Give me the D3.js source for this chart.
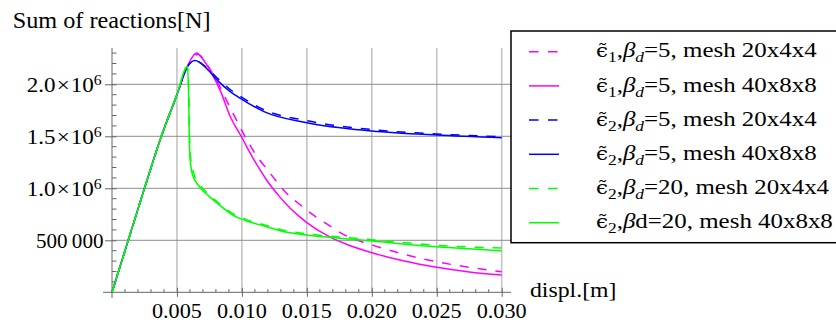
<!DOCTYPE html>
<html><head><meta charset="utf-8">
<script src="https://cdn.jsdelivr.net/npm/d3@7"></script>
<style>
body{margin:0;background:#fff}
svg{display:block}
text{font-family:"Liberation Serif","Times New Roman",serif;fill:#000}
</style>
</head><body>
<svg id="c" width="836" height="323"></svg>
<script>
// ---- data ----
const xTickValues = [0.005, 0.010, 0.015, 0.020, 0.025, 0.030];
const xTickLabels = ["0.005", "0.010", "0.015", "0.020", "0.025", "0.030"];
const yTickValues = [500000, 1000000, 1500000, 2000000];
const yTickMantissa = ["500\u2009000", "1.0", "1.5", "2.0"];
const yTickExponent = ["", "6", "6", "6"];

const magentaDashed = [[0,0],[0.00125,5e5],[0.0025,1.0e6],[0.0038,1.5e6],[0.005,1.9e6],[0.0058,2.17e6],[0.0066,2.29e6],[0.0073,2.19e6],[0.0080,2.05e6],[0.0088,1.85e6],[0.0096,1.65e6],[0.0105,1.44e6],[0.0112,1.30e6],[0.0119,1.19e6],[0.0127,1.06e6],[0.0133,0.97e6],[0.014,0.89e6],[0.0145,0.84e6],[0.015,0.79e6],[0.0165,0.66e6],[0.018,0.545e6],[0.019,0.495e6],[0.020,0.455e6],[0.0225,0.365e6],[0.025,0.294e6],[0.0275,0.24e6],[0.030,0.198e6]];
const magentaSolid = [[0,0],[0.00125,5e5],[0.0025,1.0e6],[0.0038,1.5e6],[0.005,1.9e6],[0.0058,2.17e6],[0.0065,2.30e6],[0.0070,2.24e6],[0.0077,2.10e6],[0.0084,1.92e6],[0.0091,1.69e6],[0.0099,1.51e6],[0.0109,1.28e6],[0.0119,1.08e6],[0.0129,0.92e6],[0.0137,0.81e6],[0.0145,0.72e6],[0.015,0.67e6],[0.0168,0.53e6],[0.018,0.465e6],[0.020,0.381e6],[0.0225,0.30e6],[0.025,0.24e6],[0.0275,0.196e6],[0.030,0.166e6]];
const blueDashed = [[0,0],[0.00125,5e5],[0.0025,1.0e6],[0.0038,1.5e6],[0.005,1.9e6],[0.0058,2.17e6],[0.0064,2.225e6],[0.0073,2.16e6],[0.0081,2.06e6],[0.0091,1.95e6],[0.010,1.875e6],[0.0117,1.755e6],[0.015,1.65e6],[0.020,1.565e6],[0.025,1.522e6],[0.030,1.496e6]];
const blueSolid = [[0,0],[0.00125,5e5],[0.0025,1.0e6],[0.0038,1.5e6],[0.005,1.9e6],[0.0058,2.17e6],[0.0064,2.23e6],[0.0073,2.15e6],[0.0081,2.04e6],[0.0091,1.929e6],[0.010,1.856e6],[0.0117,1.737e6],[0.015,1.63e6],[0.020,1.551e6],[0.025,1.512e6],[0.030,1.487e6]];
const greenDashed = [[0,0],[0.00125,5e5],[0.0025,1.0e6],[0.0038,1.5e6],[0.005,1.9e6],[0.0058,2.17e6],[0.00592,1.9e6],[0.00597,1.5e6],[0.00603,1.32e6],[0.0063,1.14e6],[0.0068,1.03e6],[0.0075,0.935e6],[0.0081,0.87e6],[0.0093,0.757e6],[0.0105,0.692e6],[0.0119,0.642e6],[0.013,0.602e6],[0.0145,0.57e6],[0.0175,0.532e6],[0.020,0.505e6],[0.025,0.452e6],[0.030,0.425e6]];
const greenSolid = [[0,0],[0.00125,5e5],[0.0025,1.0e6],[0.0038,1.5e6],[0.005,1.9e6],[0.0058,2.17e6],[0.0059,1.9e6],[0.00595,1.5e6],[0.0060,1.3e6],[0.0062,1.13e6],[0.0067,1.02e6],[0.0075,0.92e6],[0.0081,0.856e6],[0.0093,0.743e6],[0.0105,0.68e6],[0.0119,0.631e6],[0.013,0.59e6],[0.0145,0.558e6],[0.0175,0.52e6],[0.020,0.493e6],[0.025,0.438e6],[0.030,0.40e6]];

const seriesColors = ["#ff00ff","#ff00ff","#0000ff","#0000ff","#00ff00","#00ff00"];
const seriesDashed = [true,false,true,false,true,false];
const seriesSub = ["1","1","2","2","2","2"];
const seriesRest = ["=5, mesh 20x4x4","=5, mesh 40x8x8","=5, mesh 20x4x4","=5, mesh 40x8x8","=20, mesh 20x4x4","d=20, mesh 40x8x8"];
const seriesDsub = [true,true,true,true,true,false];
const seriesData = [magentaDashed, magentaSolid, blueDashed, blueSolid, greenDashed, greenSolid];

// ---- helpers ----
function stretch(node, ax, s) {
  d3.select(node).attr("transform", `translate(${ax},0) scale(${s},1) translate(${-ax},0)`);
}
function fitWidth(node, target, ax) {
  const w = node.getBBox().width;
  const s = target / w;
  stretch(node, ax, s);
  return s;
}

// ---- chart ----
const svg = d3.select("#c");
const x = d3.scaleLinear().domain([0, 0.03]).range([112, 501.7]);
const y = d3.scaleLinear().domain([0, 2.349e6]).range([292.3, 48]);

// vertical grid
svg.append("g").selectAll("line").data(xTickValues).join("line")
  .attr("x1", d => x(d)).attr("x2", d => x(d))
  .attr("y1", y.range()[1]).attr("y2", y(0))
  .attr("stroke", "#c4c4c4").attr("stroke-width", 1.6);
// horizontal grid
svg.append("g").selectAll("line").data(yTickValues).join("line")
  .attr("x1", x(0)).attr("x2", 511)
  .attr("y1", d => y(d)).attr("y2", d => y(d))
  .attr("stroke", "#8c8c8c").attr("stroke-width", 1);

// x axis
const xAxis = d3.axisBottom(x).tickValues(xTickValues).tickFormat(() => "").tickSizeOuter(0).tickSizeInner(4.5);
const gx = svg.append("g").attr("transform", `translate(0,${y(0)})`).call(xAxis);
gx.select(".domain").remove();
gx.selectAll(".tick line").attr("y1", -4.5).attr("y2", 4.5).attr("stroke", "#666");
gx.append("line").attr("x1", 103).attr("x2", 511).attr("y1", 0).attr("y2", 0).attr("stroke", "#666");
const xMinor = d3.range(1, 30).filter(i => i % 5 !== 0).map(i => i / 1000);
gx.append("g").selectAll("line").data(xMinor).join("line")
  .attr("x1", d => x(d)).attr("x2", d => x(d)).attr("y1", 0).attr("y2", -3.2).attr("stroke", "#666");
svg.append("g").selectAll("text").data(xTickValues).join("text")
  .attr("x", d => x(d)).attr("y", 318.5).attr("text-anchor", "middle")
  .style("font-size", "20.5px").text((d, i) => xTickLabels[i])
  .each(function(d) { fitWidth(this, 50, x(d)); });

// y axis
const yAxis = d3.axisLeft(y).tickValues(yTickValues).tickFormat(() => "").tickSizeOuter(0).tickSizeInner(6);
const gy = svg.append("g").attr("transform", `translate(${x(0)},0)`).call(yAxis);
gy.select(".domain").remove();
gy.selectAll(".tick line").attr("x1", -7).attr("x2", 4.5).attr("stroke", "#666");
gy.append("line").attr("x1", 0).attr("x2", 0).attr("y1", 48).attr("y2", 298).attr("stroke", "#666");
const yMinor = d3.range(1, 24).filter(i => i % 5 !== 0).map(i => i * 1e5);
gy.append("g").selectAll("line").data(yMinor).join("line")
  .attr("y1", d => y(d)).attr("y2", d => y(d)).attr("x1", 0).attr("x2", 4.5).attr("stroke", "#666");
const yl = svg.append("g").selectAll("text").data(yTickValues).join("text")
  .attr("x", (d, i) => yTickExponent[i] === "" ? 103.5 : 101.7).attr("y", d => y(d) + 8).attr("text-anchor", "end")
  .style("font-size", "20.5px");
yl.each(function(d, i) {
  const t = d3.select(this);
  if (yTickExponent[i] === "") {
    t.text(yTickMantissa[i]);
    fitWidth(this, 67.5, 103.5);
    return;
  }
  t.append("tspan").text(yTickMantissa[i]);
  t.append("tspan").text("\u00d7").attr("dx", 1);
  t.append("tspan").text("10").attr("dx", 1);
  t.append("tspan").text(yTickExponent[i]).attr("dy", -7.5).style("font-size", "14px");
  fitWidth(this, 75, 101.7);
});

// curves
const line = d3.line().x(d => x(d[0])).y(d => y(d[1])).curve(d3.curveMonotoneX);
const drawOrder = [1, 0, 3, 2, 5, 4];
drawOrder.forEach(i => {
  svg.append("path").datum(seriesData[i]).attr("d", line)
    .attr("fill", "none").attr("stroke", seriesColors[i]).attr("stroke-width", 1.5)
    .attr("stroke-dasharray", seriesDashed[i] ? "9,9" : null);
});

// axis titles
const title = svg.append("text").attr("x", 12.7).attr("y", 28.3).style("font-size", "24px").text("Sum of reactions[N]");
fitWidth(title.node(), 198, 12.7);
const xl = svg.append("text").attr("x", 530).attr("y", 297).style("font-size", "21.5px").text("displ.[m]");
fitWidth(xl.node(), 86.5, 530);

// legend
const lg = svg.append("g");
lg.append("rect").attr("x", 511).attr("y", 31).attr("width", 340).attr("height", 211.7)
  .attr("fill", "#fff").attr("stroke", "#000").attr("stroke-width", 1.5);
const rowY = d3.range(6).map(i => 51.7 + i * 34.2);
let legendScale = null;
seriesColors.forEach((c, i) => {
  lg.append("line").attr("x1", 529).attr("x2", 559).attr("y1", rowY[i]).attr("y2", rowY[i])
    .attr("stroke", c).attr("stroke-width", 1.5).attr("stroke-dasharray", seriesDashed[i] ? "9.5,9.5" : null);
  const t = lg.append("text").attr("x", 596).attr("y", rowY[i] + 5.8).style("font-size", "21.5px");
  t.append("tspan").text("\u03f5\u0303").style("font-family", "'DejaVu Serif'").style("font-size", "18.5px");
  t.append("tspan").text(seriesSub[i]).attr("dy", 5).style("font-size", "15px");
  t.append("tspan").text(",").attr("dy", -5);
  t.append("tspan").text("\u03b2").style("font-style", "italic");
  if (seriesDsub[i]) {
    t.append("tspan").text("d").attr("dy", 5).style("font-style", "italic").style("font-size", "15px");
    t.append("tspan").text(seriesRest[i]).attr("dy", -5);
  } else {
    t.append("tspan").text(seriesRest[i]);
  }
  if (legendScale === null) legendScale = fitWidth(t.node(), 221, 596);
  else stretch(t.node(), 596, legendScale);
});
</script>
</body></html>
